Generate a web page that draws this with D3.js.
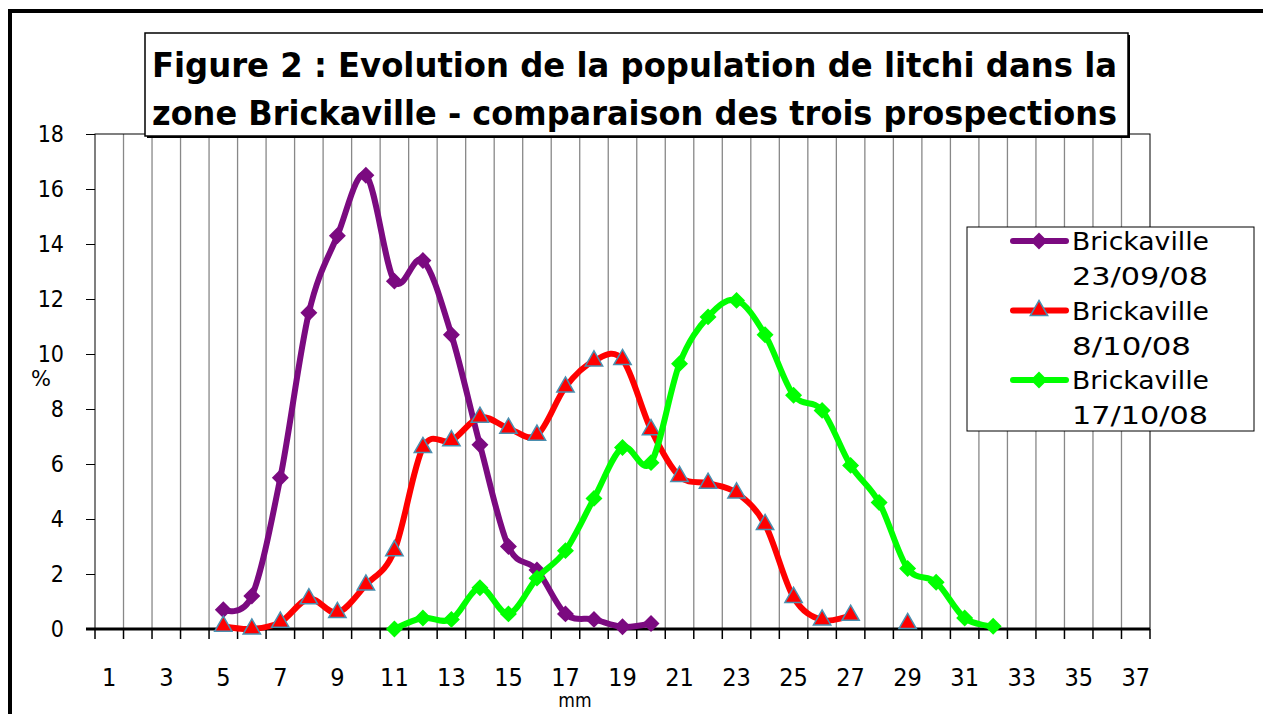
<!DOCTYPE html>
<html>
<head>
<meta charset="utf-8">
<script src="https://cdn.jsdelivr.net/npm/d3@7"></script>
<style>
  body { margin: 0; background: #fff; }
  svg { display: block; }
</style>
</head>
<body>
<div id="chart"></div>
<script>
const width = 1263;
const height = 714;

// categories (mm) and y ticks
const sizes = d3.range(1, 38);
const xLabels = sizes.filter(d => d % 2 === 1);
const yTicks = [0, 2, 4, 6, 8, 10, 12, 14, 16, 18];

// % per size class, one array per prospection (null = no value)
const sept23 = [
  [5, 0.7], [6, 1.2], [7, 5.5], [8, 11.5], [9, 14.3], [10, 16.5], [11, 12.65], [12, 13.4],
  [13, 10.7], [14, 6.7], [15, 3.0], [16, 2.15], [17, 0.55], [18, 0.35], [19, 0.08], [20, 0.2]
];
const oct8 = [
  [5, 0.1], [6, 0], [7, 0.25], [8, 1.1], [9, 0.6], [10, 1.6], [11, 2.85], [12, 6.6],
  [13, 6.85], [14, 7.7], [15, 7.3], [16, 7.05], [17, 8.8], [18, 9.75], [19, 9.8], [20, 7.25],
  [21, 5.55], [22, 5.3], [23, 4.95], [24, 3.8], [25, 1.15], [26, 0.33], [27, 0.5], [28, null], [29, 0.2]
];
const oct17 = [
  [11, 0], [12, 0.4], [13, 0.35], [14, 1.5], [15, 0.55], [16, 1.85], [17, 2.85], [18, 4.75],
  [19, 6.6], [20, 6.05], [21, 9.65], [22, 11.35], [23, 11.95], [24, 10.7], [25, 8.5], [26, 7.95],
  [27, 5.95], [28, 4.6], [29, 2.2], [30, 1.7], [31, 0.4], [32, 0.1]
];

const series = [
  { name: ["Brickaville", "23/09/08"], data: sept23, color: "#7b0a80", marker: "diamond" },
  { name: ["Brickaville", "8/10/08"], data: oct8, color: "#ff0000", marker: "triangle" },
  { name: ["Brickaville", "17/10/08"], data: oct17, color: "#00ff00", marker: "diamond" }
];

const svg = d3.select("#chart").append("svg")
    .attr("width", width)
    .attr("height", height);

svg.append("rect").attr("width", width).attr("height", height).attr("fill", "#fff");

// outer chart frame (cropped)
svg.append("path")
    .attr("d", "M10,714 V11 H1263")
    .attr("fill", "none")
    .attr("stroke", "#000")
    .attr("stroke-width", 4);

const plot = { left: 95, right: 1150, top: 134, bottom: 629 };

const x = d3.scaleBand().domain(sizes).range([plot.left, plot.right]).padding(0);
const y = d3.scaleLinear().domain([0, 18]).range([plot.bottom, plot.top]);
const cx = d => x(d) + x.bandwidth() / 2;

// vertical gridlines at category boundaries
svg.append("g").selectAll("line")
    .data(sizes.slice(1))
    .enter().append("line")
    .attr("x1", d => x(d)).attr("x2", d => x(d))
    .attr("y1", plot.top).attr("y2", plot.bottom)
    .attr("stroke", "#888")
    .attr("stroke-width", 1.3);

// plot frame
svg.append("rect")
    .attr("x", plot.left).attr("y", plot.top)
    .attr("width", plot.right - plot.left).attr("height", plot.bottom - plot.top)
    .attr("fill", "none").attr("stroke", "#000").attr("stroke-width", 1);

// y axis
const yAxis = svg.append("g")
    .attr("transform", `translate(${plot.left},0)`)
    .call(d3.axisLeft(y).tickValues(yTicks).tickSize(9).tickPadding(22).tickFormat(d3.format("d")));
yAxis.select(".domain").remove();
yAxis.selectAll(".tick line").attr("stroke", "#000");
yAxis.selectAll("text")
    .attr("font-family", "'DejaVu Sans Condensed', 'DejaVu Sans', sans-serif")
    .attr("font-size", 23)
    .attr("fill", "#000");

// x axis
const xAxisG = svg.append("g").attr("transform", `translate(0,${plot.bottom})`);
xAxisG.append("line")
    .attr("x1", plot.left - 9).attr("x2", plot.right)
    .attr("stroke", "#000").attr("stroke-width", 3);
xAxisG.selectAll(".tk")
    .data(sizes.concat([38]))
    .enter().append("line")
    .attr("class", "tk")
    .attr("x1", d => d === 38 ? plot.right : x(d))
    .attr("x2", d => d === 38 ? plot.right : x(d))
    .attr("y1", 0).attr("y2", 10)
    .attr("stroke", "#000").attr("stroke-width", 1.5);
xAxisG.selectAll("text")
    .data(xLabels)
    .enter().append("text")
    .attr("x", d => cx(d))
    .attr("y", 57)
    .attr("text-anchor", "middle")
    .attr("font-family", "'DejaVu Sans Condensed', 'DejaVu Sans', sans-serif")
    .attr("font-size", 25)
    .text(d => d);

// axis titles
svg.append("text")
    .attr("x", 575).attr("y", 707)
    .attr("text-anchor", "middle")
    .attr("font-family", "'DejaVu Sans Condensed', 'DejaVu Sans', sans-serif")
    .attr("font-size", 19)
    .text("mm");
svg.append("text")
    .attr("x", 41).attr("y", 386)
    .attr("text-anchor", "middle")
    .attr("font-family", "'DejaVu Sans', sans-serif")
    .attr("font-size", 21)
    .text("%");

// series
const line = d3.line()
    .defined(d => d[1] !== null)
    .x(d => cx(d[0]))
    .y(d => y(d[1]))
    .curve(d3.curveCardinal);

const diamond = d3.symbol().type(d3.symbolSquare).size(100);
const triangle = d3.symbol().type(d3.symbolTriangle).size(130);

function drawMarker(g, type, color) {
  if (type === "diamond") {
    g.append("path")
        .attr("d", diamond())
        .attr("transform", "rotate(45)")
        .attr("fill", color)
        .attr("stroke", color)
        .attr("stroke-width", 2);
  } else {
    g.append("path")
        .attr("d", triangle())
        .attr("fill", color)
        .attr("stroke", "#4a8fb0")
        .attr("stroke-width", 1.5);
  }
}

series.forEach(s => {
  svg.append("path")
      .datum(s.data)
      .attr("fill", "none")
      .attr("stroke", s.color)
      .attr("stroke-width", 6)
      .attr("stroke-linejoin", "round")
      .attr("d", line);

  svg.append("g").selectAll("g")
      .data(s.data.filter(d => d[1] !== null))
      .enter().append("g")
      .attr("transform", d => `translate(${cx(d[0])},${y(d[1])})`)
      .each(function() { drawMarker(d3.select(this), s.marker, s.color); });
});

// title box
const title = svg.append("g");
title.append("rect")
    .attr("x", 147).attr("y", 35).attr("width", 983).attr("height", 103)
    .attr("fill", "#000");
title.append("rect")
    .attr("x", 145).attr("y", 33).attr("width", 983).attr("height", 103)
    .attr("fill", "#fff").attr("stroke", "#000").attr("stroke-width", 1.5);
const titleLines = [
  "Figure 2 : Evolution de la population de litchi dans la",
  "zone Brickaville - comparaison des trois prospections"
];
title.selectAll("text")
    .data(titleLines)
    .enter().append("text")
    .attr("x", 152)
    .attr("y", (d, i) => 77 + i * 48)
    .attr("font-family", "'DejaVu Sans', sans-serif")
    .attr("font-weight", "bold")
    .attr("font-size", 33)
    .attr("textLength", 965)
    .attr("lengthAdjust", "spacingAndGlyphs")
    .text(d => d);

// legend
const legend = svg.append("g");
legend.append("rect")
    .attr("x", 967).attr("y", 227).attr("width", 287).attr("height", 204)
    .attr("fill", "#fff").attr("stroke", "#000").attr("stroke-width", 1);

series.forEach((s, i) => {
  const ly = 241 + i * 69.5;
  legend.append("line")
      .attr("x1", 1013).attr("x2", 1066)
      .attr("y1", ly).attr("y2", ly)
      .attr("stroke", s.color).attr("stroke-width", 6)
      .attr("stroke-linecap", "round");
  drawMarker(legend.append("g").attr("transform", `translate(1039,${ly})`), s.marker, s.color);
  s.name.forEach((t, j) => {
    legend.append("text")
        .attr("x", 1072)
        .attr("y", ly + 9 + j * 35)
        .attr("font-family", "'DejaVu Sans', sans-serif")
        .attr("font-size", 24)
        .attr("textLength", j === 0 ? 137 : (t.length * 17))
        .attr("lengthAdjust", "spacingAndGlyphs")
        .text(t);
  });
});
</script>
</body>
</html>
